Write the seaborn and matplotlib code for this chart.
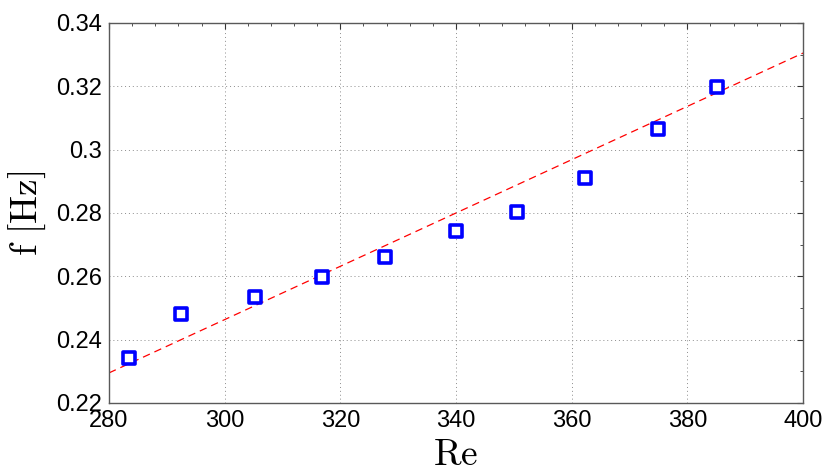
import numpy as np
import pandas as pd
import seaborn as sns
import matplotlib.pyplot as plt
from matplotlib.ticker import MultipleLocator

# measured points
re_vals = [283.5, 292.5, 305.2, 316.8, 327.7, 340.0, 350.6, 362.3, 374.9, 385.1]
f_vals = [0.2342, 0.2481, 0.2535, 0.2598, 0.2661, 0.2743, 0.2803, 0.2911, 0.3065, 0.3198]

# linear fit line endpoints
fit_re = [280, 400]
fit_f = [0.2295, 0.3305]

sns.set_style("white")
plt.rcParams['font.family'] = ['Liberation Sans', 'DejaVu Sans']
plt.rcParams['mathtext.fontset'] = 'cm'
plt.rcParams['text.color'] = 'black'
plt.rcParams['axes.labelcolor'] = 'black'
plt.rcParams['xtick.labelcolor'] = 'black'
plt.rcParams['ytick.labelcolor'] = 'black'

df = pd.DataFrame({'Re': re_vals, 'f': f_vals})
fit = pd.DataFrame({'Re': fit_re, 'f': fit_f})

fig = plt.figure(figsize=(8.3, 4.73), dpi=100)
ax = fig.add_axes([0.1313, 0.148, 0.8362, 0.8034])

sns.lineplot(data=fit, x='Re', y='f', ax=ax, color='red', lw=0.9,
             dashes=False, zorder=2)
ax.lines[0].set_dashes((6, 4))
sns.scatterplot(data=df, x='Re', y='f', ax=ax, marker='s', s=75,
                facecolor='white', edgecolor='blue', linewidth=2.6, zorder=3)

ax.set_xlim(280, 400)
ax.set_ylim(0.22, 0.34)
ax.xaxis.set_major_locator(MultipleLocator(20))
ax.xaxis.set_minor_locator(MultipleLocator(4))
ax.yaxis.set_major_locator(MultipleLocator(0.02))
ax.yaxis.set_minor_locator(MultipleLocator(0.01))
ax.set_yticks(np.arange(0.22, 0.341, 0.02))
ax.set_yticklabels(['0.22', '0.24', '0.26', '0.28', '0.3', '0.32', '0.34'])

ax.grid(True, which='major', linestyle=(0, (1, 3)), color='0.55', lw=0.7)
ax.tick_params(which='both', direction='in', top=True, right=True,
               labelsize=17, color='0.2', pad=5)
ax.tick_params(which='major', length=4)
ax.tick_params(which='minor', length=2.5)
for s in ax.spines.values():
    s.set_color('0.35')
    s.set_linewidth(1.0)

ax.set_xlabel(r'$\mathrm{Re}$', fontsize=27, labelpad=4)
ax.set_ylabel(r'$\mathrm{f\ [Hz]}$', fontsize=27, labelpad=6)

fig.savefig('out.png', dpi=100)
